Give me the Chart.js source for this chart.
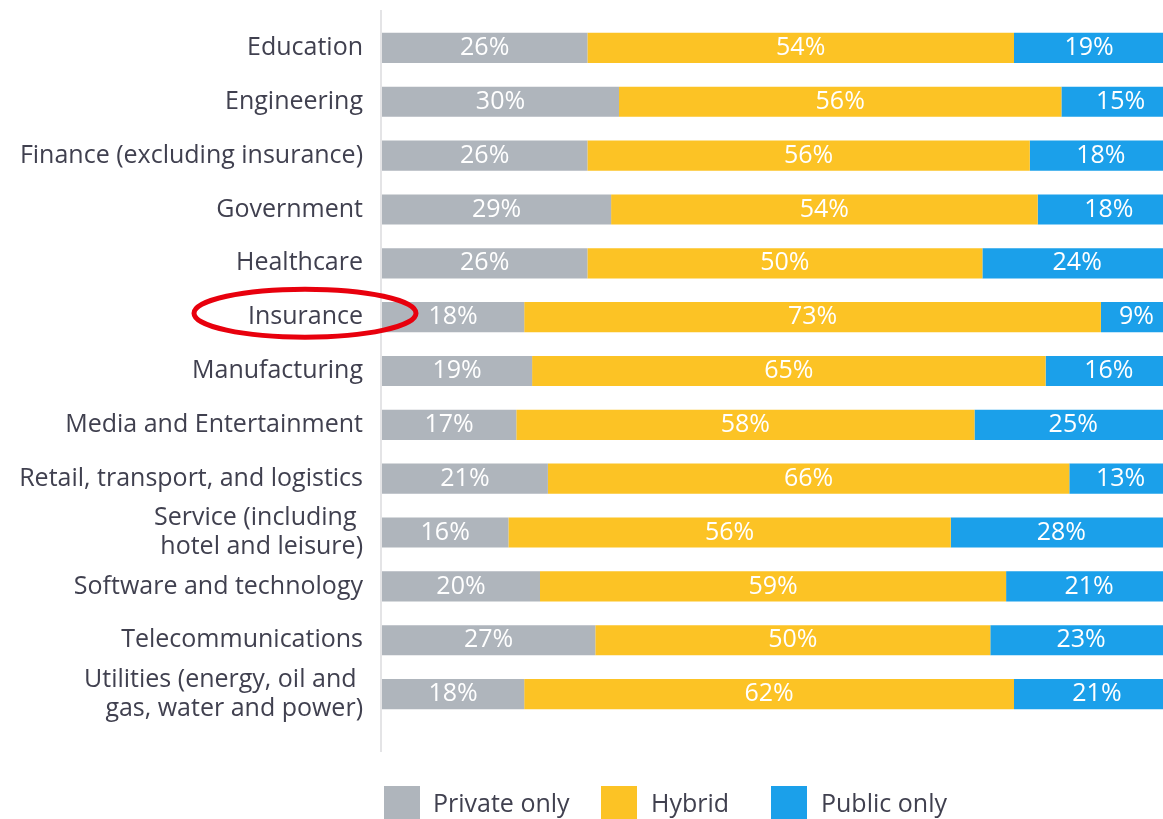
<!DOCTYPE html>
<html>
<head>
<meta charset="utf-8">
<script src="https://cdn.jsdelivr.net/npm/chart.js@4/dist/chart.umd.min.js"></script>
<style>
  html, body { margin: 0; padding: 0; background: #fff; overflow: hidden; width: 1163px; height: 819px; }
  .wrap { position: relative; width: 1172px; height: 819px; }
  .legend { position: absolute; top: 786px; left: 0; font: 25px "Open Sans", sans-serif; color: #40404f; }
  .legend span.sw { position: absolute; top: 0; width: 36px; height: 36px; }
  .legend span.tx { position: absolute; top: 0; white-space: nowrap; line-height: 32px; }
</style>
</head>
<body>
<div class="wrap">
  <canvas id="chart" width="1172" height="819"></canvas>
  <div class="legend" id="legend"></div>
</div>
<script>
// Cloud deployment mix by industry, stacked to 100%.
const categories = [
  "Education",
  "Engineering",
  "Finance (excluding insurance)",
  "Government",
  "Healthcare",
  "Insurance",
  "Manufacturing",
  "Media and Entertainment",
  "Retail, transport, and logistics",
  ["Service (including ", "hotel and leisure)"],
  "Software and technology",
  "Telecommunications",
  ["Utilities (energy, oil and ", "gas, water and power)"],
];
const seriesNames = ["Private only", "Hybrid", "Public only"];
const privateOnly = [26, 30, 26, 29, 26, 18, 19, 17, 21, 16, 20, 27, 18];
const hybrid = [54, 56, 56, 54, 50, 73, 65, 58, 66, 56, 59, 50, 62];
const publicOnly = [19, 15, 18, 18, 24, 9, 16, 25, 13, 28, 21, 23, 21];
const highlighted = "Insurance";

const palette = ["#afb5bc", "#fcc325", "#1ba0ea"];
const ink = "#40404f";
const font = '"Open Sans", sans-serif';

// white percentages centred in each segment
const segmentLabels = {
  id: "segmentLabels",
  afterDatasetsDraw(chart) {
    const ctx = chart.ctx;
    ctx.save();
    ctx.fillStyle = "#fff";
    ctx.font = `25px ${font}`;
    ctx.textAlign = "center";
    ctx.textBaseline = "middle";
    chart.data.datasets.forEach((ds, i) => {
      chart.getDatasetMeta(i).data.forEach((bar, j) => {
        ctx.fillText(`${ds.data[j]}%`, (bar.x + bar.base) / 2, bar.y);
      });
    });
    ctx.restore();
  },
};

// axis rule on the left and the red highlight ring
const decorations = {
  id: "decorations",
  beforeDatasetsDraw(chart) {
    const ctx = chart.ctx;
    const x = chart.chartArea.left - 1;
    ctx.save();
    ctx.strokeStyle = "#e4e4e6";
    ctx.lineWidth = 2;
    ctx.beginPath();
    ctx.moveTo(x, 10);
    ctx.lineTo(x, 752);
    ctx.stroke();
    ctx.restore();
  },
  afterDraw(chart) {
    const idx = categories.indexOf(highlighted);
    const y = chart.scales.y.getPixelForValue(idx) - 4;
    const ctx = chart.ctx;
    ctx.save();
    ctx.strokeStyle = "#e8000d";
    ctx.lineWidth = 5;
    ctx.beginPath();
    ctx.ellipse(305, y, 111, 24, 0, 0, Math.PI * 2);
    ctx.stroke();
    ctx.restore();
  },
};

new Chart(document.getElementById("chart"), {
  type: "bar",
  data: {
    labels: categories,
    datasets: [privateOnly, hybrid, publicOnly].map((data, i) => ({
      label: seriesNames[i],
      data,
      backgroundColor: palette[i],
      borderWidth: 0,
      categoryPercentage: 1,
      barPercentage: 0.56,
    })),
  },
  options: {
    indexAxis: "y",
    responsive: false,
    animation: false,
    layout: { padding: { top: 21, bottom: 98, left: 0, right: 0 } },
    plugins: { legend: { display: false }, tooltip: { enabled: false } },
    scales: {
      x: { stacked: true, min: 0, max: 100, display: false },
      y: {
        stacked: true,
        grid: { display: false },
        border: { display: false },
        ticks: { color: ink, autoSkip: false, font: { family: font, size: 25, lineHeight: 1.16 }, padding: 11 },
        afterFit: (scale) => {
          scale.width = 382;
          scale.paddingTop = 0;
          scale.paddingBottom = 0;
        },
      },
    },
  },
  plugins: [decorations, segmentLabels],
});

const legendSpots = [[384, 433], [601, 651], [771, 821]];
document.getElementById("legend").innerHTML = seriesNames.map((name, i) =>
  `<span class="sw" style="left:${legendSpots[i][0]}px;background:${palette[i]}"></span>` +
  `<span class="tx" style="left:${legendSpots[i][1]}px">${name}</span>`).join("");
</script>
</body>
</html>
